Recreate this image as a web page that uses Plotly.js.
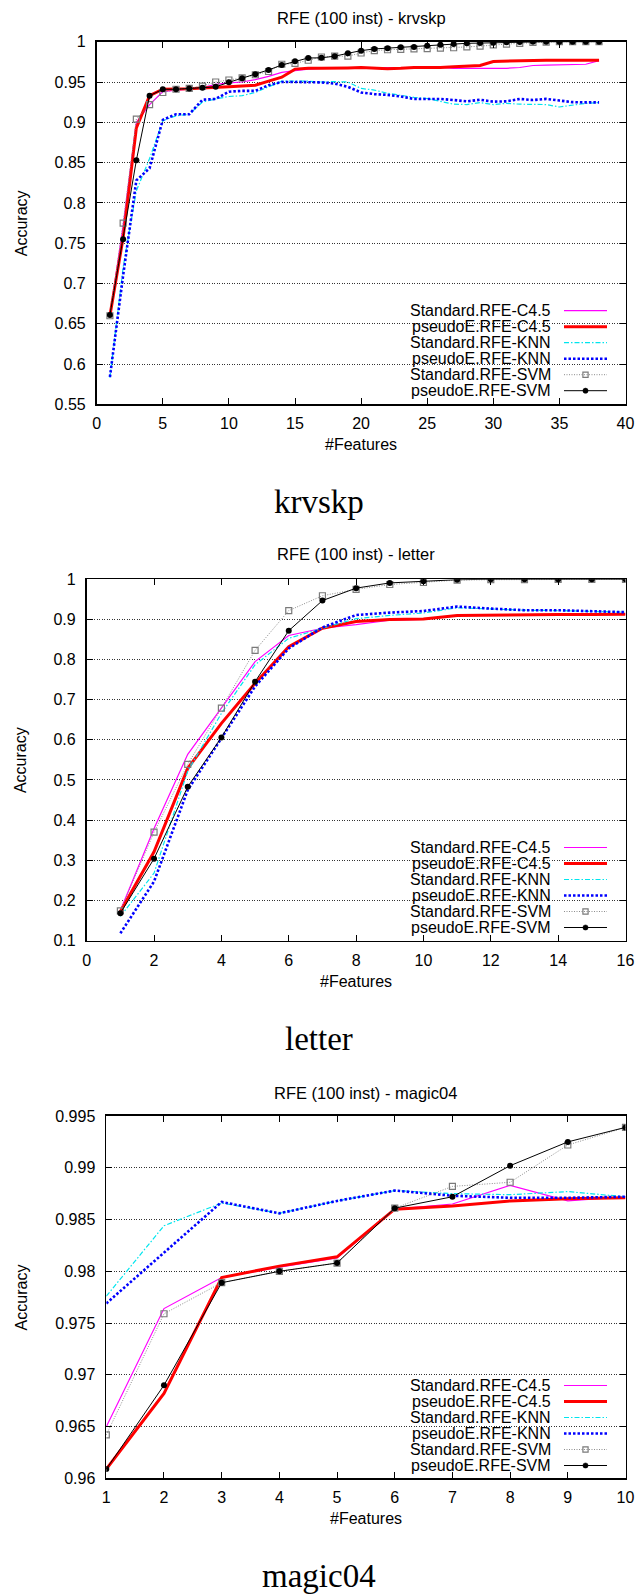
<!DOCTYPE html>
<html>
<head>
<meta charset="utf-8">
<script src="https://cdn.plot.ly/plotly-3.0.1.min.js"></script>
<style>
  html, body { margin: 0; padding: 0; background: #fff; }
  #chart { width: 638px; height: 1596px; }
</style>
</head>
<body>
<div id="chart"></div>
<script>
// ---- series names (legend order) ----
const seriesNames = [
  'Standard.RFE-C4.5', 'pseudoE.RFE-C4.5',
  'Standard.RFE-KNN', 'pseudoE.RFE-KNN',
  'Standard.RFE-SVM', 'pseudoE.RFE-SVM'
];

// ---- krvskp: accuracy vs number of features (1..38) ----
const krvskpFeatures = [1,2,3,4,5,6,7,8,9,10,11,12,13,14,15,16,17,18,19,20,21,22,23,24,25,26,27,28,29,30,31,32,33,34,35,36,37,38];
const krvskpStdC45 = [0.660,0.772,0.900,0.922,0.938,0.940,0.941,0.943,0.947,0.949,0.950,0.953,0.957,0.962,0.964,0.966,0.967,0.968,0.968,0.968,0.968,0.9675,0.968,0.968,0.968,0.968,0.967,0.967,0.967,0.9665,0.967,0.968,0.9705,0.971,0.9715,0.9715,0.972,0.9765];
const krvskpPseC45 = [0.660,0.757,0.893,0.933,0.941,0.941,0.9415,0.9425,0.943,0.944,0.945,0.946,0.951,0.956,0.966,0.967,0.967,0.967,0.9675,0.968,0.967,0.9665,0.967,0.968,0.968,0.968,0.969,0.970,0.9705,0.9755,0.976,0.9765,0.977,0.977,0.977,0.977,0.977,0.977];
const krvskpStdKNN = [0.583,0.720,0.815,0.855,0.902,0.908,0.910,0.925,0.929,0.932,0.933,0.937,0.944,0.951,0.951,0.951,0.950,0.9505,0.950,0.942,0.940,0.936,0.9335,0.931,0.9295,0.926,0.9225,0.922,0.9245,0.922,0.9235,0.9225,0.922,0.922,0.919,0.9215,0.9235,0.9245];
const krvskpPseKNN = [0.584,0.710,0.828,0.843,0.903,0.910,0.910,0.928,0.929,0.938,0.939,0.939,0.946,0.950,0.950,0.950,0.9495,0.948,0.944,0.937,0.935,0.934,0.932,0.929,0.929,0.929,0.9276,0.926,0.928,0.9256,0.926,0.929,0.9276,0.929,0.927,0.925,0.9247,0.9247];
const krvskpStdSVM = [0.660,0.775,0.904,0.922,0.937,0.941,0.942,0.945,0.950,0.9525,0.955,0.959,0.963,0.972,0.973,0.977,0.981,0.982,0.982,0.986,0.989,0.990,0.9905,0.991,0.9915,0.992,0.9925,0.9935,0.9945,0.996,0.997,0.998,0.999,0.9995,1.0,1.0,1.0,1.0];
const krvskpPseSVM = [0.661,0.755,0.853,0.933,0.941,0.941,0.942,0.943,0.944,0.9496,0.9545,0.9595,0.965,0.971,0.9757,0.9798,0.980,0.982,0.9856,0.9889,0.991,0.992,0.993,0.9934,0.995,0.9963,0.997,0.998,0.9983,0.9988,0.9992,0.9996,1.0,1.0,1.0,1.0,1.0,1.0];

// ---- letter: accuracy vs number of features (1..16) ----
const letterFeatures = [1,2,3,4,5,6,7,8,9,10,11,12,13,14,15,16];
const letterStdC45 = [0.175,0.379,0.564,0.681,0.795,0.860,0.878,0.887,0.898,0.900,0.910,0.910,0.911,0.912,0.912,0.913];
const letterPseC45 = [0.172,0.321,0.529,0.641,0.741,0.832,0.878,0.895,0.900,0.901,0.910,0.911,0.911,0.912,0.912,0.913];
const letterStdKNN = [0.160,0.268,0.522,0.666,0.787,0.853,0.878,0.902,0.910,0.916,0.929,0.926,0.923,0.922,0.920,0.918];
const letterPseKNN = [0.118,0.247,0.475,0.604,0.733,0.828,0.880,0.911,0.917,0.921,0.932,0.927,0.923,0.923,0.920,0.918];
const letterStdSVM = [0.174,0.370,0.539,0.679,0.823,0.922,0.959,0.975,0.987,0.992,0.998,0.999,0.999,1.0,1.0,1.0];
const letterPseSVM = [0.168,0.304,0.483,0.606,0.745,0.872,0.947,0.978,0.991,0.995,0.999,1.0,1.0,1.0,1.0,1.0];

// ---- magic04: accuracy vs number of features (1..10) ----
const magicFeatures = [1,2,3,4,5,6,7,8,9,10];
const magicStdC45 = [0.9650,0.9764,0.9794,0.9804,0.9813,0.9860,0.9865,0.9883,0.9868,0.9872];
const magicPseC45 = [0.9609,0.9682,0.9794,0.9805,0.9814,0.9860,0.9863,0.9868,0.9870,0.9871];
const magicStdKNN = [0.9776,0.9844,0.9866,0.9856,0.9868,0.9878,0.9875,0.9874,0.9877,0.9872];
const magicPseKNN = [0.9769,0.9818,0.9867,0.9856,0.9868,0.9878,0.9873,0.9871,0.9871,0.9872];
const magicStdSVM = [0.9642,0.9759,0.9789,0.9800,0.9808,0.9861,0.9882,0.9886,0.9922,0.9939];
const magicPseSVM = [0.9609,0.9690,0.9789,0.9800,0.9808,0.9861,0.9872,0.9902,0.9925,0.9939];

// ---- page geometry (pixels) ----
const W = 638, H = 1596;
const px = X => X / W;
const py = Y => 1 - Y / H;
const SANS = 'Liberation Sans, Arial, Helvetica, sans-serif';
const SERIF = 'Liberation Serif, Times New Roman, serif';

// line styles in legend order
const styles = [
  { line: { color: '#ff00ff', width: 1.2 } },
  { line: { color: '#ff0000', width: 3 } },
  { line: { color: '#00e5ee', width: 1.2, dash: '5px,2px,1.5px,2px' } },
  { line: { color: '#0000ff', width: 2.6, dash: '2.5px,2px' } },
  { line: { color: '#8c8c8c', width: 1, dash: '1px,1.5px' },
    marker: { symbol: 'square-open', size: 6, color: '#7a7a7a', line: { width: 1.2 } } },
  { line: { color: '#000000', width: 1 },
    marker: { symbol: 'circle', size: 6, color: '#000000' } }
];

const panels = [
  { name: 'krvskp', x: krvskpFeatures,
    ys: [krvskpStdC45, krvskpPseC45, krvskpStdKNN, krvskpPseKNN, krvskpStdSVM, krvskpPseSVM],
    xr: [0, 40], xd: 5, yr: [0.55, 1], yd: 0.05,
    L: 96.7, R: 625.5, T: 41.7, B: 404.4,
    titleY: 18, xlabY: 444.3, capY: 502, legY: 310.7, blankT: 301 },
  { name: 'letter', x: letterFeatures,
    ys: [letterStdC45, letterPseC45, letterStdKNN, letterPseKNN, letterStdSVM, letterPseSVM],
    xr: [0, 16], xd: 2, yr: [0.1, 1], yd: 0.1,
    L: 86.7, R: 625.5, T: 579.3, B: 940.5,
    titleY: 554.3, xlabY: 981.7, capY: 1039, legY: 847.5, blankT: 838 },
  { name: 'magic04', x: magicFeatures,
    ys: [magicStdC45, magicPseC45, magicStdKNN, magicPseKNN, magicStdSVM, magicPseSVM],
    xr: [1, 10], xd: 1, yr: [0.96, 0.995], yd: 0.005,
    L: 106.3, R: 625.5, T: 1116, B: 1478.4,
    titleY: 1092.7, xlabY: 1518.3, capY: 1576, legY: 1385.5, blankT: 1377 }
];

const data = [];
const layout = {
  width: W, height: H,
  margin: { l: 0, r: 0, t: 0, b: 0 },
  paper_bgcolor: '#fff', plot_bgcolor: '#fff',
  showlegend: false,
  font: { family: SANS, size: 16, color: '#000' },
  annotations: [], shapes: []
};

function axisBase(domain, range, dtick, anchor) {
  return {
    domain: domain, range: range, dtick: dtick, tick0: range[0], anchor: anchor,
    showline: true, linecolor: '#000', linewidth: 1.8, mirror: 'allticks',
    ticks: 'inside', ticklen: 6, tickwidth: 1, tickcolor: '#000',
    zeroline: false, fixedrange: true, automargin: false,
    tickfont: { family: SANS, size: 16, color: '#000' }
  };
}

panels.forEach((p, i) => {
  const k = i === 0 ? '' : String(i + 1);
  const xa = 'x' + k, ya = 'y' + k;

  // axes
  const xAxis = axisBase([px(p.L), px(p.R)], p.xr, p.xd, ya);
  xAxis.showgrid = false;
  xAxis.ticklabelstandoff = 4;
  const yAxis = axisBase([py(p.B), py(p.T)], p.yr, p.yd, xa);
  yAxis.showgrid = true;
  yAxis.gridcolor = '#333';
  yAxis.gridwidth = 1;
  yAxis.griddash = '1px,1.5px';
  yAxis.ticklabelstandoff = 6;
  layout['xaxis' + k] = xAxis;
  layout['yaxis' + k] = yAxis;

  // series
  p.ys.forEach((vals, s) => {
    const st = styles[s];
    const tr = {
      type: 'scatter', x: p.x, y: vals, xaxis: xa, yaxis: ya,
      name: seriesNames[s], mode: st.marker ? 'lines+markers' : 'lines',
      line: st.line, hoverinfo: 'skip'
    };
    if (st.marker) tr.marker = st.marker;
    data.push(tr);
  });

  const cx = (p.L + p.R) / 2;
  // panel title
  layout.annotations.push({ text: 'RFE (100 inst) - ' + p.name, xref: 'paper', yref: 'paper',
    x: px(cx), y: py(p.titleY), xanchor: 'center', yanchor: 'middle', showarrow: false,
    font: { family: SANS, size: 16.5 } });
  // axis titles
  layout.annotations.push({ text: '#Features', xref: 'paper', yref: 'paper',
    x: px(cx), y: py(p.xlabY), xanchor: 'center', yanchor: 'middle', showarrow: false,
    font: { family: SANS, size: 16 } });
  layout.annotations.push({ text: 'Accuracy', xref: 'paper', yref: 'paper', textangle: -90,
    x: px(21.2), y: py((p.T + p.B) / 2), xanchor: 'center', yanchor: 'middle', showarrow: false,
    font: { family: SANS, size: 16 } });
  // caption below each chart
  layout.annotations.push({ text: p.name, xref: 'paper', yref: 'paper',
    x: px(318.5), y: py(p.capY), xanchor: 'center', yanchor: 'middle', showarrow: false,
    font: { family: SERIF, size: 33 } });

  // opaque key box hides the grid behind the legend
  layout.shapes.push({ type: 'rect', xref: 'paper', yref: 'paper', layer: 'between',
    x0: px(387), x1: px(p.R - 1), y0: py(p.B - 1), y1: py(p.blankT),
    fillcolor: '#fff', line: { width: 0 } });

  // legend: text right-aligned, line sample to its right
  seriesNames.forEach((nm, s) => {
    const yy = p.legY + s * 16;
    const st = styles[s];
    layout.annotations.push({ text: nm, xref: 'paper', yref: 'paper',
      x: px(553), y: py(yy), xanchor: 'right', yanchor: 'middle', showarrow: false,
      font: { family: SANS, size: 16 } });
    layout.shapes.push({ type: 'line', xref: 'paper', yref: 'paper', layer: 'above',
      x0: px(564), x1: px(607), y0: py(yy), y1: py(yy),
      line: { color: st.line.color, width: st.line.width, dash: st.line.dash || 'solid' } });
    if (st.marker) {
      const r = 2.6;
      if (st.marker.symbol === 'square-open') {
        layout.shapes.push({ type: 'rect', xref: 'paper', yref: 'paper', layer: 'above',
          x0: px(585.5 - r), x1: px(585.5 + r), y0: py(yy + r), y1: py(yy - r),
          fillcolor: 'rgba(0,0,0,0)', line: { color: st.marker.color, width: 1.2 } });
      } else {
        layout.shapes.push({ type: 'circle', xref: 'paper', yref: 'paper', layer: 'above',
          x0: px(585.5 - r), x1: px(585.5 + r), y0: py(yy + r), y1: py(yy - r),
          fillcolor: st.marker.color, line: { color: st.marker.color, width: 0.5 } });
      }
    }
  });
});

Plotly.newPlot('chart', data, layout, { staticPlot: true, displayModeBar: false });
</script>
</body>
</html>
